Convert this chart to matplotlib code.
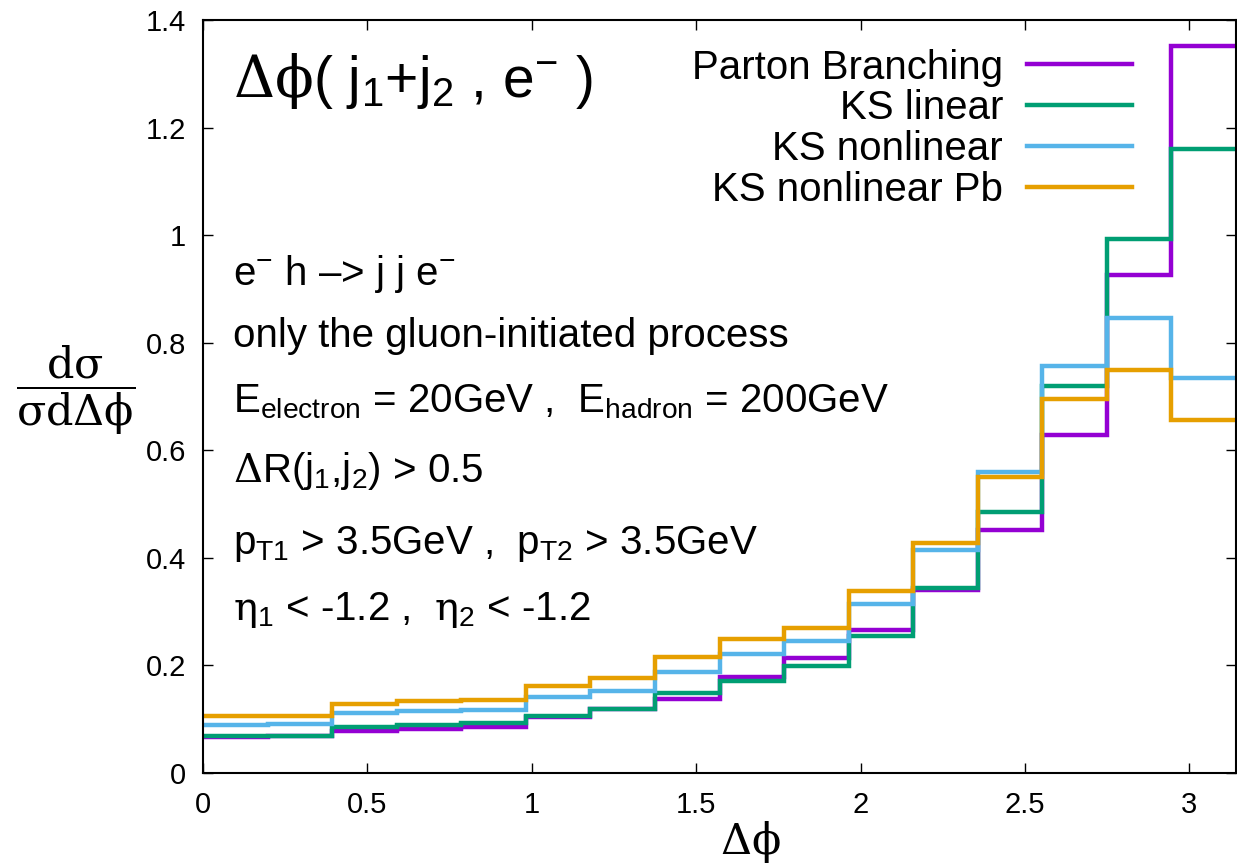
import numpy as np
import matplotlib
matplotlib.use('Agg')
import matplotlib.pyplot as plt
from matplotlib.ticker import FormatStrFormatter, MultipleLocator

plt.rcParams['font.family'] = ['Liberation Sans', 'DejaVu Sans']
plt.rcParams['mathtext.fontset'] = 'custom'
plt.rcParams['mathtext.rm'] = 'Liberation Sans'
plt.rcParams['mathtext.it'] = 'Liberation Sans'
plt.rcParams['mathtext.sf'] = 'DejaVu Serif'

# normalised dsigma/dDeltaphi in 16 bins on [0, pi]
n_bins = 16
parton_branching = [0.067, 0.068, 0.078, 0.081, 0.086, 0.104, 0.118, 0.137,
                    0.179, 0.214, 0.266, 0.341, 0.452, 0.628, 0.926, 1.351]
ks_linear = [0.068, 0.069, 0.086, 0.089, 0.092, 0.105, 0.118, 0.148,
             0.171, 0.198, 0.255, 0.343, 0.485, 0.719, 0.992, 1.161]
ks_nonlinear = [0.089, 0.091, 0.111, 0.115, 0.117, 0.142, 0.153, 0.188,
                0.222, 0.246, 0.315, 0.415, 0.559, 0.757, 0.846, 0.734]
ks_nonlinear_pb = [0.105, 0.106, 0.128, 0.133, 0.136, 0.162, 0.177, 0.216,
                   0.249, 0.269, 0.339, 0.427, 0.550, 0.696, 0.749, 0.656]

labels = ['Parton Branching', 'KS linear', 'KS nonlinear', 'KS nonlinear Pb']
colors = ['#9400d3', '#009e73', '#56b4e9', '#e69f00']

edges = np.linspace(0, np.pi, n_bins + 1)

fig = plt.figure(figsize=(12.37, 8.65), dpi=100)
ax = fig.add_axes([0.1641, 0.1064, 0.8351, 0.8705])

for vals, lab, col in zip([parton_branching, ks_linear, ks_nonlinear, ks_nonlinear_pb],
                          labels, colors):
    ax.stairs(vals, edges, baseline=None, color=col, lw=3.2, label=lab)

ax.set_xlim(0, np.pi)
ax.set_ylim(0, 1.4)
ax.xaxis.set_major_locator(MultipleLocator(0.5))
ax.yaxis.set_major_locator(MultipleLocator(0.2))
ax.xaxis.set_major_formatter(FormatStrFormatter('%g'))
ax.yaxis.set_major_formatter(FormatStrFormatter('%g'))
ax.tick_params(direction='in', length=7, width=1, labelsize=21,
               top=True, right=True)
ax.tick_params(axis='x', pad=13)
ax.tick_params(axis='y', pad=12)
for s in ax.spines.values():
    s.set_linewidth(1.5)

# axis labels in serif greek
fig.text(76 / 1237, 1 - 390 / 865,
         r'$\dfrac{\mathsf{d\sigma}}{\mathsf{\sigma d\Delta\phi}}$',
         fontsize=31, ha='center', va='center')
fig.text(750 / 1237, 1 - 842 / 865, r'$\mathsf{\Delta\phi}$',
         fontsize=31, ha='center', va='center')

# observable and cuts
ax.text(0.091, 1.2565, r'$\mathsf{\Delta\phi}$( j$_1$+j$_2$ , e$^{-}$ )',
        fontsize=41, va='baseline')
cuts = [
    (0.907, r'e$^{-}$ h –> j j e$^{-}$'),
    (0.792, 'only the gluon-initiated process'),
    (0.671, r'E$_{\mathrm{electron}}$ = 20GeV ,  E$_{\mathrm{hadron}}$ = 200GeV'),
    (0.541, r'$\mathsf{\Delta}$R(j$_1$,j$_2$) > 0.5'),
    (0.407, r'p$_{\mathrm{T1}}$ > 3.5GeV ,  p$_{\mathrm{T2}}$ > 3.5GeV'),
    (0.284, r'$\mathsf{\eta}_1$ < -1.2 ,  $\mathsf{\eta}_2$ < -1.2'),
]
for yv, txt in cuts:
    ax.text(0.091, yv, txt, fontsize=29, va='baseline')

ax.legend(loc='upper right', bbox_to_anchor=(0.8993, 0.962), frameon=False,
          markerfirst=False, fontsize=29, handlelength=2.6,
          handletextpad=0.6, borderpad=0, borderaxespad=0, labelspacing=0.07)

plt.savefig('out.png')
